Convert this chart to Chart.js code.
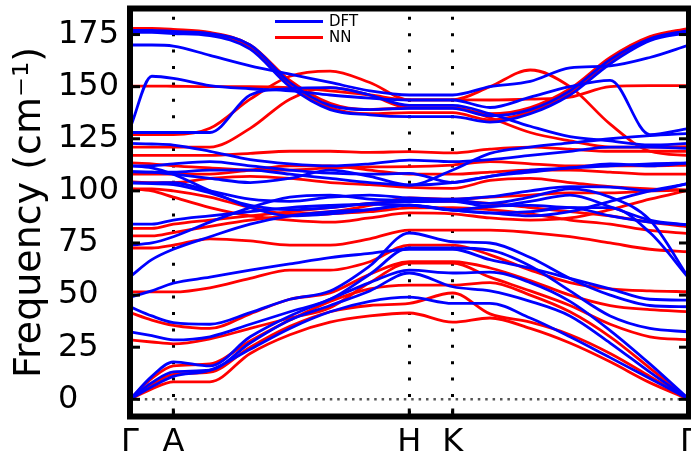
<!DOCTYPE html>
<html>
<head>
<meta charset="utf-8">
<script src="https://cdn.jsdelivr.net/npm/chart.js@4/dist/chart.umd.min.js"></script>
<style>
  html, body { margin: 0; padding: 0; background: #fff; }
  #wrap { width: 691px; height: 461px; }
</style>
</head>
<body>
<div id="wrap"><canvas id="c" width="691" height="461"></canvas></div>
<script>
// Path coordinate (fraction of Γ–A–H–K–Γ path length) of each sampled point
const kPath = [0, 0.039, 0.0775, 0.143, 0.215, 0.286, 0.358, 0.429, 0.4996, 0.5773, 0.644, 0.716, 0.787, 0.859, 0.930, 1];

// High-symmetry points and their labels
const symPoints = [0, 0.0775, 0.4996, 0.5773, 1];
const symLabels = ['Γ', 'A', 'H', 'K', 'Γ'];

// Frequency ticks (cm⁻¹)
const yTicks = [0, 25, 50, 75, 100, 125, 150, 175];

// Phonon branches from DFT (cm⁻¹), one row per branch, sampled at kPath
const dftBands = [
  [177, 177, 176.5, 175.5, 170, 152, 141, 139, 139.6, 139.6, 136, 139, 148, 163, 173, 177],
  [176, 176, 175.5, 174.5, 168, 150, 139, 136.5, 135.6, 135.6, 133, 137, 146, 161, 172, 176],
  [170, 170, 169.5, 165, 160, 156, 152, 148, 146, 146, 150, 152.5, 159, 160, 164, 170],
  [130, 155, 154, 150.5, 149, 148, 146, 144.5, 143.6, 143.6, 140, 145, 150, 153, 127, 130],
  [128, 128, 128, 128, 146, 149, 149.5, 146, 141, 141, 137, 131, 126, 124, 122, 122.8],
  [122.8, 122.5, 122, 119, 115, 113, 112, 113, 114.8, 114, 115, 117, 119, 121, 121, 120.4],
  [112, 112, 113, 114, 112, 110, 108.5, 108, 108.4, 104, 107, 109, 111, 112, 113, 113.4],
  [109.2, 109, 109, 110, 110, 108, 106, 104, 102.8, 104, 107, 110, 111, 113, 112, 113.4],
  [109.2, 109, 108, 106, 104, 106, 110, 107, 102.8, 110, 118, 121, 123, 125, 126.5, 127.6],
  [103.8, 103.8, 104, 100, 96, 95, 97, 98, 96.6, 96, 97.2, 100, 102, 101.8, 100, 103.6],
  [103.8, 103.5, 103, 99, 93, 91, 92, 94, 94.8, 95, 92.5, 95, 98, 92.4, 86, 83.6],
  [112, 111, 108, 100, 92, 88, 89, 91, 93.2, 90.8, 89.4, 88, 90, 95, 100, 103.6],
  [84, 84, 86, 88, 90, 92, 93, 93.5, 93.2, 90.8, 89.4, 90, 92, 88, 85, 83.6],
  [74, 75, 78, 85, 92, 97, 98, 96, 95.5, 95.5, 94, 97, 101, 97, 86, 58],
  [58.8, 67, 72, 78, 84, 88, 90, 91, 93.2, 90.8, 92.5, 93, 92, 92, 80, 58],
  [49, 52, 55.7, 58.6, 62, 65, 68, 70, 72, 72, 67, 63, 58, 53, 48, 47.6],
  [44.4, 40, 36.8, 36, 41.6, 48, 52, 64, 79.8, 75.6, 75, 68, 58, 50, 45, 44.4],
  [32.4, 30.5, 28.5, 30, 36, 42, 48, 60, 72.6, 72.6, 71.6, 64, 52, 40, 34, 32.4],
  [0, 11, 18, 16, 30, 40, 48, 56, 62, 60.6, 61, 56, 47, 33, 17, 0],
  [0, 8, 13.2, 14, 27, 38, 45, 52, 60.6, 54, 52, 47, 40, 27, 13, 0],
  [0, 6, 11, 14, 24, 34, 42, 47, 49, 46, 46, 39, 30, 20, 10, 0]
];

// Phonon branches from the neural-network model (cm⁻¹), sampled at kPath
const nnBands = [
  [178, 178, 177.5, 176, 170, 153, 142, 139, 139.8, 139.8, 137, 140, 149, 164, 174, 178],
  [176.5, 176.5, 176, 175, 169, 151, 140, 137, 137.5, 137.5, 134, 138, 147, 162, 173, 176.5],
  [150.3, 150.3, 150.2, 150, 150, 149.5, 148, 146, 143.7, 143.7, 143.6, 144, 145, 150, 150.5, 150.5],
  [127, 127, 127, 130, 144, 155, 157.5, 152, 143.7, 143.7, 150, 158, 150, 132, 119, 117],
  [121, 121, 121, 121, 130, 144, 149.5, 146, 139.8, 139.8, 135, 128, 124, 121, 121, 121.2],
  [117, 117, 117, 117, 118, 119, 119, 118.5, 118.8, 118.2, 120, 121, 120, 119, 119, 119],
  [113.4, 113, 112, 111, 110, 110, 111, 111.5, 111.6, 112.4, 114, 113, 112, 112, 112, 112.4],
  [108, 108, 108, 108, 110, 112, 112, 110, 108, 108, 109, 110, 110, 109, 108, 108],
  [104.4, 104, 104, 106, 107, 106, 104, 103, 101.7, 101.2, 105, 106, 104, 102, 101, 100.4],
  [101, 101, 100, 97, 92, 89, 90, 93, 96.6, 96, 97, 98, 99, 99, 100, 100.4],
  [101, 100, 97, 92, 88, 86, 85, 87, 89.4, 89, 87, 86, 87, 91, 96, 100.4],
  [82, 82, 84, 86, 88, 90, 92, 94, 95, 95, 94, 92, 90, 88, 85, 82.8],
  [78.4, 78.4, 80, 83, 86, 88, 89, 90, 91.8, 92, 91, 89, 86, 84, 81, 79.6],
  [72.6, 72.6, 74, 77, 76, 74, 74, 77, 81.2, 81.2, 81.2, 80, 78, 75, 72, 70.8],
  [51.5, 51.5, 51.5, 53.5, 58, 62, 62, 66, 74, 74, 69.3, 62, 56, 53, 52, 51.6],
  [41.6, 38, 35.5, 34, 41, 48, 51, 60, 66, 66, 63, 57, 50, 45, 43, 42],
  [28.5, 27.5, 26.6, 29, 34, 39, 44, 56, 65.4, 65.4, 58.6, 52, 45, 36, 30, 28.5],
  [0, 10, 16, 17, 28, 38, 47, 53, 54.8, 54.8, 56, 50, 42, 30, 15, 0],
  [0, 7, 12, 13, 25, 35, 42, 45, 46, 51, 41, 37, 31, 22, 11, 0],
  [0, 5, 8.4, 8.4, 22, 31, 37, 40, 41.4, 37, 39, 34, 27, 18, 8, 0]
];

const DFT_COLOR = '#0000ff';
const NN_COLOR = '#ff0000';
const FONT = "'DejaVu Sans', sans-serif";

function bandDataset(label, values, color) {
  return {
    label: label,
    data: values.map((v, i) => ({ x: kPath[i], y: v })),
    borderColor: color,
    borderWidth: 2.8,
    pointRadius: 0,
    fill: false,
    cubicInterpolationMode: 'monotone'
  };
}

// DFT first so that its lines end up drawn on top of the NN lines
const datasets = [
  ...dftBands.map(b => bandDataset('DFT', b, DFT_COLOR)),
  ...nnBands.map(b => bandDataset('NN', b, NN_COLOR))
];

// Heavy frame with inward tick marks
const framePlugin = {
  id: 'frame',
  afterDatasetsDraw(chart) {
    const { ctx, chartArea: a, scales } = chart;
    const seg = (x1, y1, x2, y2) => { ctx.beginPath(); ctx.moveTo(x1, y1); ctx.lineTo(x2, y2); ctx.stroke(); };
    ctx.save();
    ctx.strokeStyle = '#000';
    ctx.lineWidth = 3;
    yTicks.forEach(v => {
      const p = scales.y.getPixelForValue(v);
      seg(a.left, p, a.left + 10, p);
      seg(a.right - 10, p, a.right, p);
    });
    symPoints.slice(1, -1).forEach(v => {
      const p = scales.x.getPixelForValue(v);
      seg(p, a.bottom - 8, p, a.bottom);
    });
    ctx.lineWidth = 6;
    ctx.strokeRect(a.left, a.top, a.right - a.left, a.bottom - a.top);
    ctx.restore();
  }
};

// Two-entry legend (DFT / NN)
const legendPlugin = {
  id: 'bandLegend',
  afterDraw(chart) {
    const { ctx } = chart;
    const entries = [{ text: 'DFT', color: DFT_COLOR, y: 21.5 }, { text: 'NN', color: NN_COLOR, y: 37.5 }];
    ctx.save();
    ctx.font = '15px ' + FONT;
    ctx.textBaseline = 'middle';
    ctx.textAlign = 'left';
    entries.forEach(e => {
      ctx.strokeStyle = e.color;
      ctx.lineWidth = 3;
      ctx.beginPath();
      ctx.moveTo(275, e.y);
      ctx.lineTo(323, e.y);
      ctx.stroke();
      ctx.fillStyle = '#000';
      ctx.fillText(e.text, 329, e.y + 1);
    });
    ctx.restore();
  }
};

new Chart(document.getElementById('c'), {
  type: 'line',
  data: { datasets },
  options: {
    responsive: false,
    animation: false,
    events: [],
    layout: { autoPadding: false, padding: { top: 8.5, right: 2, left: 58, bottom: 0 } },
    plugins: { legend: { display: false }, tooltip: { enabled: false } },
    scales: {
      x: {
        type: 'linear',
        min: 0,
        max: 1,
        afterBuildTicks: s => { s.ticks = symPoints.map(v => ({ value: v })); },
        afterFit: s => { s.height = 44.5; s.paddingLeft = 0; s.paddingRight = 0; },
        ticks: {
          autoSkip: false,
          maxRotation: 0,
          padding: 7,
          color: '#000',
          font: { family: FONT, size: 32 },
          callback: (v, i) => symLabels[i]
        },
        grid: {
          drawTicks: false,
          lineWidth: 3,
          color: c => (c.tick && c.tick.value > 0 && c.tick.value < 1) ? '#000' : 'rgba(0,0,0,0)'
        },
        border: { display: false, dash: [3, 13.4], dashOffset: 8.1 }
      },
      y: {
        min: -8.25,
        max: 187.5,
        afterBuildTicks: s => { s.ticks = yTicks.map(v => ({ value: v })); },
        afterFit: s => { s.width = 72; s.paddingTop = 0; s.paddingBottom = 0; },
        ticks: {
          padding: 11,
          crossAlign: 'far',
          color: '#000',
          font: { family: FONT, size: 32 }
        },
        grid: {
          drawTicks: false,
          lineWidth: 2.5,
          color: c => (c.tick && c.tick.value === 0) ? '#555' : 'rgba(0,0,0,0)'
        },
        border: { display: false, dash: [2.5, 4.9] },
        title: {
          display: true,
          text: 'Frequency (cm⁻¹)',
          color: '#000',
          font: { family: FONT, size: 38 },
          padding: { top: -51, bottom: 0 }
        }
      }
    }
  },
  plugins: [framePlugin, legendPlugin]
});
</script>
</body>
</html>
